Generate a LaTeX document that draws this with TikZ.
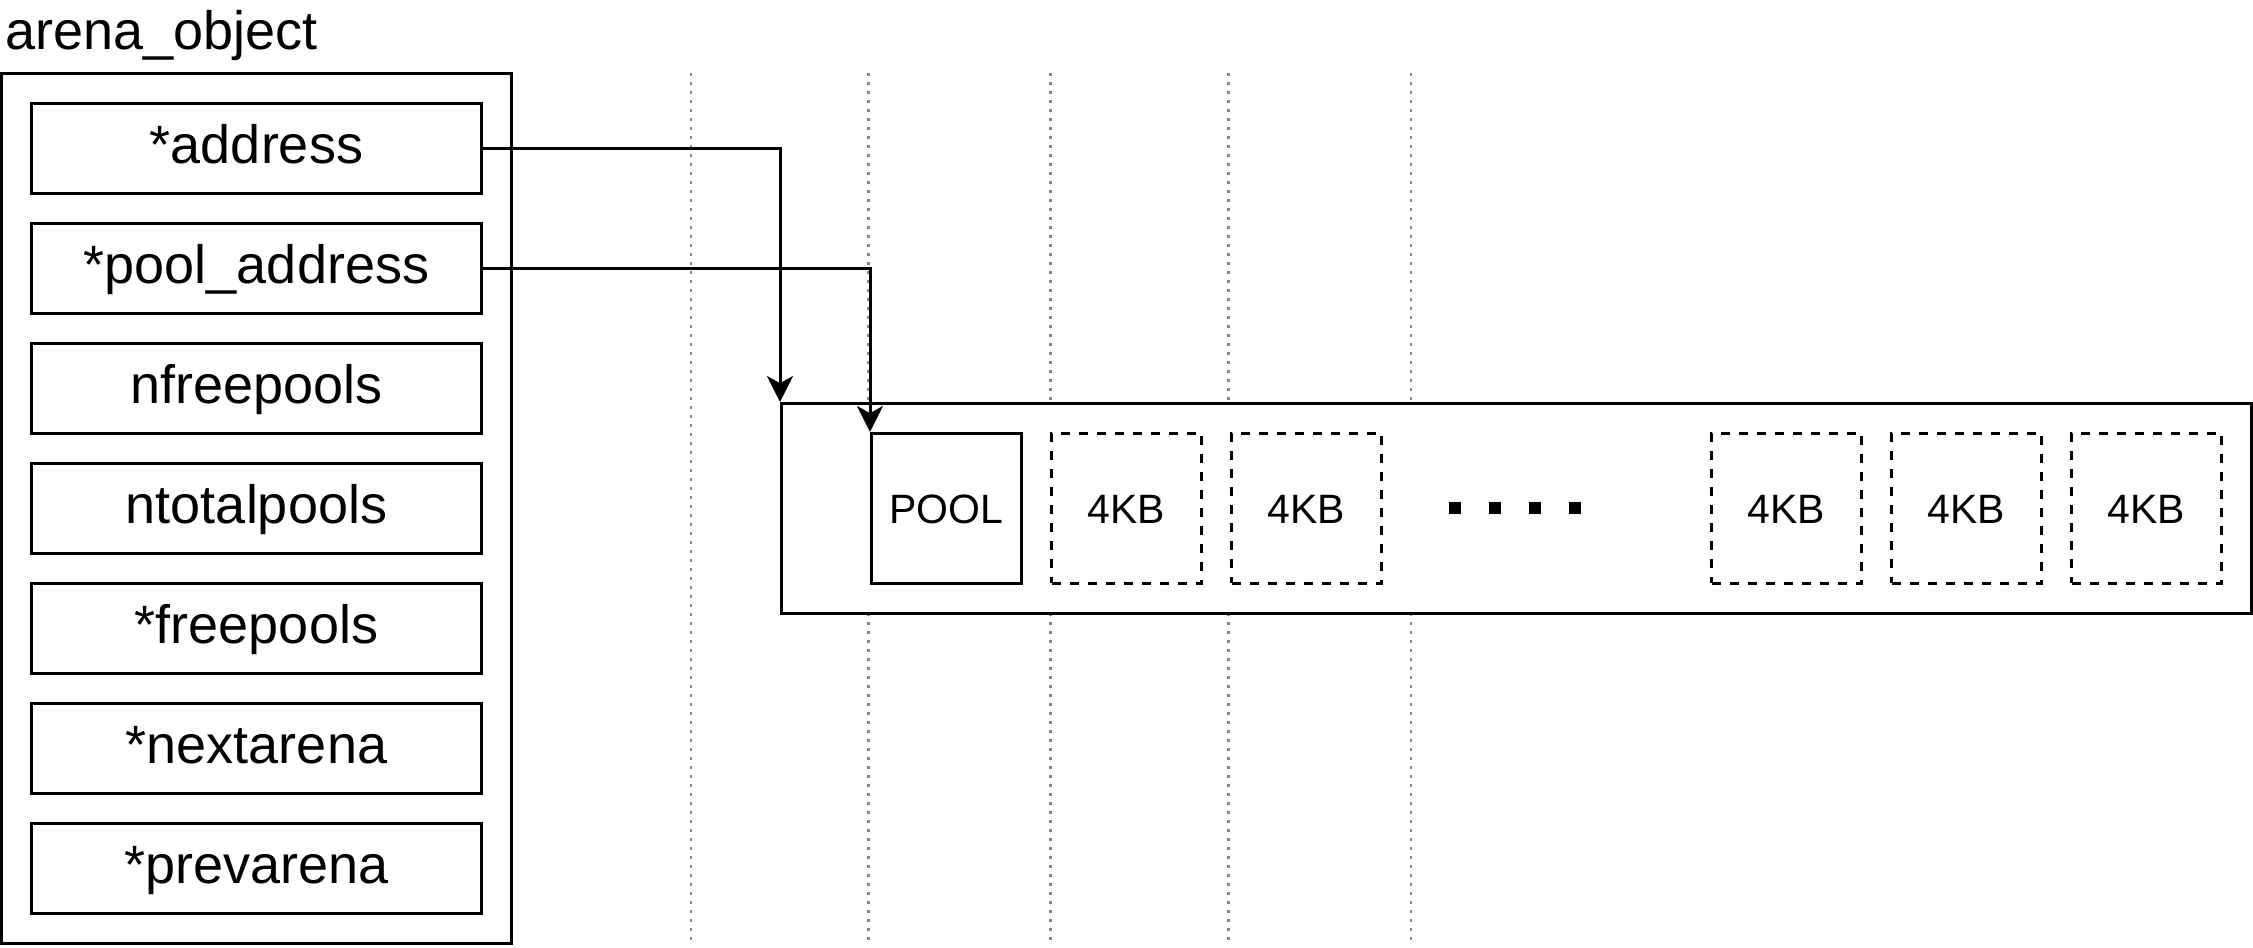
\documentclass[tikz,border=0pt]{standalone}
\usepackage{fontspec}
\setmainfont{Liberation Sans}
\usetikzlibrary{arrows.meta}

\definecolor{gridgray}{RGB}{135,135,135}

\tikzset{
  objbox/.style={draw, line width=0.75pt, inner sep=0pt},
  field/.style={objbox, minimum width=112.5pt, minimum height=22.5pt,
    font=\fontsize{13.5}{16}\selectfont, text height=0.75em, text depth=0em},
  page/.style={objbox, dash pattern=on 2.25pt off 2.25pt, minimum width=37.5pt, minimum height=37.5pt,
    font=\fontsize{10.25}{12}\selectfont, text height=0.75em, text depth=0pt},
  ptr/.style={line width=0.75pt, -{Stealth[length=6.5pt,width=6.5pt,inset=1.8pt]}},
  guide/.style={gridgray, line width=0.7pt, dash pattern=on 0.7pt off 1.55pt},
}

\begin{document}
\begin{tikzpicture}[x=0.25pt,y=0.25pt,yscale=-1,xscale=1]
\useasboundingbox (0,0) rectangle (2253,948);
%Guide lines
\foreach \gx in {691,868.5,1050.5,1228.5,1411}
  \draw [guide] (\gx,73.5) -- (\gx,943.5) ;

% Text Node
\node (title) [anchor=base west, inner sep=0pt, font=\fontsize{13.5}{16}\selectfont] at (5,50) {arena\_object};
%Shape: Rectangle
\node (obj) [objbox, minimum width=127.5pt, minimum height=217.5pt] at (256.5,508.5) {};

%Fields
\node (addr) [field] at (256.5,148.5) {*address};
\node (pooladdr) [field] at (256.5,268.5) {*pool\_address};
\node (nfree) [field] at (256.5,388.5) {nfreepools};
\node (ntotal) [field] at (256.5,508.5) {ntotalpools};
\node (freepools) [field] at (256.5,628.5) {*freepools};
\node (nextarena) [field] at (256.5,748.5) {*nextarena};
\node (prevarena) [field] at (256.5,868.5) {*prevarena};

%Shape: Rectangle
\node (arenabox) [objbox, fill=white, minimum width=367.5pt, minimum height=52.5pt] at (1516.5,508.5) {};

%Pages
\node (pool) [page, solid] at (946.5,508.5) {POOL};
\node (pgA) [page] at (1126.5,508.5) {4KB};
\node (pgB) [page] at (1306.5,508.5) {4KB};
\node (pgC) [page] at (1786.5,508.5) {4KB};
\node (pgD) [page] at (1966.5,508.5) {4KB};
\node (pgE) [page] at (2146.5,508.5) {4KB};

%Dots
\draw [line width=3pt, dash pattern=on 3pt off 7pt] (1449,508.5) -- (1582,508.5) ;

%Pointers
\draw [ptr] (addr.east) -| (arenabox.north west) ;
\draw [ptr] (pooladdr.east) -| (pool.north west) ;
\end{tikzpicture}
\end{document}
